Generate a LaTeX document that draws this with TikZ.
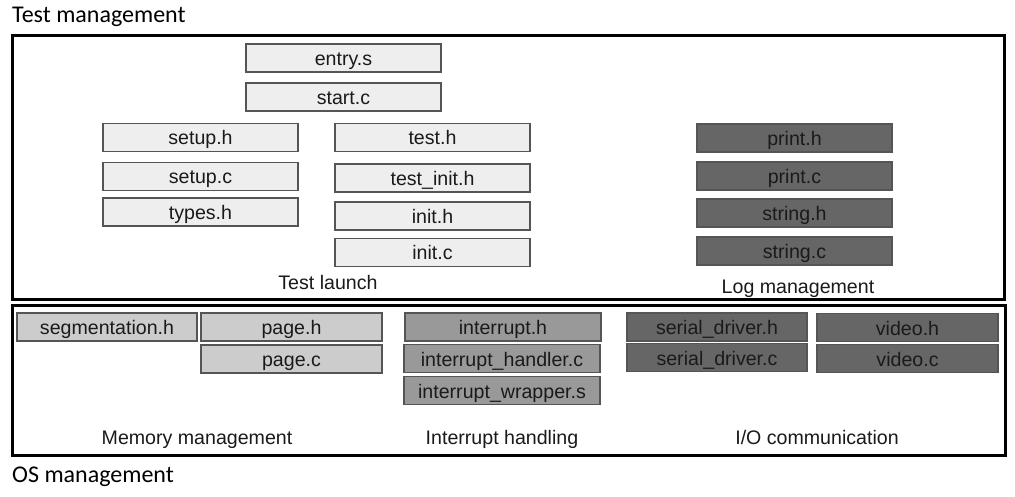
\documentclass[tikz,border=0pt]{standalone}
\usepackage{fontspec}
\setmainfont{Liberation Sans}
\newfontfamily\calib{Carlito}
\definecolor{lightf}{HTML}{EEEEEE}
\definecolor{memf}{HTML}{CCCCCC}
\definecolor{intf}{HTML}{999999}
\definecolor{darkf}{HTML}{666666}
\definecolor{edgec}{HTML}{555555}
\definecolor{txt}{HTML}{1A1A1A}
\begin{document}
\begin{tikzpicture}[x=1pt,y=-1pt,
  fbox/.style={draw=edgec, line width=1.2pt, minimum height=28pt, inner sep=0pt,
    text height=17pt, text depth=2pt,
    font=\fontsize{19.6}{20}\selectfont, text=txt, anchor=center},
  topw/.style={fbox, minimum width=195pt},
  lightbox/.style={topw, fill=lightf},
  darkbox/.style={topw, fill=darkf},
  membox/.style={fbox, fill=memf},
  intbox/.style={fbox, fill=intf, minimum width=196pt},
  iobox/.style={fbox, fill=darkf},
  grouplbl/.style={font=\fontsize{19.6}{20}\selectfont, text=txt, inner sep=0pt, anchor=base},
  frame/.style={draw=black, line width=3pt},
  title/.style={font=\calib\fontsize{24}{24}\selectfont, text=black, anchor=west, inner sep=0pt}
]
\useasboundingbox (0,0) rectangle (1015,497);
\fill[white] (0,0) rectangle (1015,497);

% frames
\node[frame, minimum width=992pt, minimum height=263pt, inner sep=0pt] (testframe) at (508,167.5) {};
\node[frame, minimum width=993pt, minimum height=150pt, inner sep=0pt] (osframe) at (508.5,380) {};

\node[title] (ttest) at (12,17) {Test management};
\node[title] (tos) at (12,477) {OS management};

% Test launch
\node[lightbox] (entry) at (343.5,58) {entry.s};
\node[lightbox] (start) at (343.5,97) {start.c};
\node[lightbox] (setuph) at (200.5,137.5) {setup.h};
\node[lightbox] (setupc) at (200.5,176.5) {setup.c};
\node[lightbox] (types) at (200.5,212) {types.h};
\node[lightbox] (testh) at (432.5,137.5) {test.h};
\node[lightbox] (testinit) at (432.5,178) {test\_init.h};
\node[lightbox] (inith) at (432.5,216) {init.h};
\node[lightbox] (initc) at (432.5,252.5) {init.c};
\node[grouplbl] (lblaunch) at (328,289) {Test launch};

% Log management
\node[darkbox] (printh) at (794.5,138) {print.h};
\node[darkbox] (printc) at (794.5,176) {print.c};
\node[darkbox] (stringh) at (794.5,213) {string.h};
\node[darkbox] (stringc) at (794.5,251) {string.c};
\node[grouplbl] (lblog) at (798,293) {Log management};

% Memory management
\node[membox, minimum width=180pt] (seg) at (107,327) {segmentation.h};
\node[membox, minimum width=181pt] (pageh) at (291.5,327) {page.h};
\node[membox, minimum width=181pt] (pagec) at (291.5,359) {page.c};
\node[grouplbl] (lbmem) at (197,444) {Memory management};

% Interrupt handling
\node[intbox] (inth) at (503,327) {interrupt.h};
\node[intbox] (inthand) at (502,358.5) {interrupt\_handler.c};
\node[intbox] (intwrap) at (502,390.5) {interrupt\_wrapper.s};
\node[grouplbl] (lbint) at (502,444) {Interrupt handling};

% I/O communication
\node[iobox, minimum width=180pt] (serh) at (717,327) {serial\_driver.h};
\node[iobox, minimum width=180pt] (serc) at (717,357.5) {serial\_driver.c};
\node[iobox, minimum width=181pt] (vidh) at (907.5,327.5) {video.h};
\node[iobox, minimum width=181pt] (vidc) at (907.5,358.5) {video.c};
\node[grouplbl] (lbio) at (817,444) {I/O communication};
\end{tikzpicture}
\end{document}
